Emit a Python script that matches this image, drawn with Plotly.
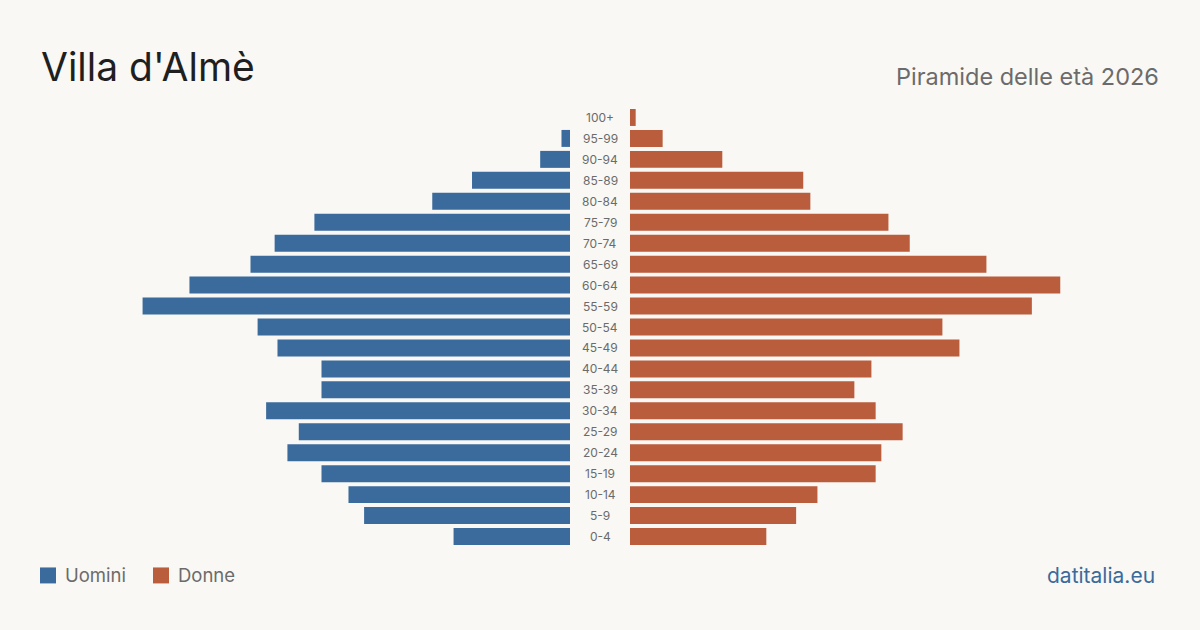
import plotly.graph_objects as go

ages = ["0-4", "5-9", "10-14", "15-19", "20-24", "25-29", "30-34", "35-39", "40-44",
        "45-49", "50-54", "55-59", "60-64", "65-69", "70-74", "75-79", "80-84",
        "85-89", "90-94", "95-99", "100+"]
men = [82, 145, 156, 175, 199, 191, 214, 175, 175, 206, 220, 301, 268, 225, 208, 180, 97, 69, 21, 6, 0]
women = [96, 117, 132, 173, 177, 192, 173, 158, 170, 232, 220, 283, 303, 251, 197, 182, 127, 122, 65, 23, 4]

BLUE = "#3b6b9c"
ORANGE = "#ba5d3c"
BG = "#f9f8f4"
GRAY = "#6b6b6b"
FONT = "Inter, Open Sans, sans-serif"

W, H = 1200, 630
T, B = 106.5, 82.5
PH = H - T - B
xmax = 530 / 1.42


def py(pix):
    # convert a pixel row (from top of figure) to plot-area paper coordinate
    return (H - B - pix) / PH


fig = go.Figure()
fig.add_trace(go.Bar(y=ages, x=men, orientation="h", marker=dict(color=BLUE, line=dict(width=0)),
                     xaxis="x", yaxis="y", name="Uomini", showlegend=False, hoverinfo="x+y"))
fig.add_trace(go.Bar(y=ages, x=women, orientation="h", marker=dict(color=ORANGE, line=dict(width=0)),
                     xaxis="x2", yaxis="y", name="Donne", showlegend=False, hoverinfo="x+y"))

annotations = []
for a in ages:
    annotations.append(dict(x=600 / W, xref="paper", y=a, yref="y", text=a, showarrow=False,
                            xanchor="center", yanchor="middle",
                            font=dict(family=FONT, size=12, color=GRAY)))

annotations += [
    dict(x=39 / W, y=py(66), xref="paper", yref="paper", text="Villa d'Almè", showarrow=False,
         xanchor="left", yanchor="middle", font=dict(family=FONT, size=39, color="#1f1f1f")),
    dict(x=1161 / W, y=py(76), xref="paper", yref="paper", text="Piramide delle età 2026",
         showarrow=False, xanchor="right", yanchor="middle", font=dict(family=FONT, size=23.5, color=GRAY)),
    dict(x=63 / W, y=py(576), xref="paper", yref="paper", text="Uomini", showarrow=False,
         xanchor="left", yanchor="middle", font=dict(family=FONT, size=18.5, color=GRAY)),
    dict(x=176 / W, y=py(576), xref="paper", yref="paper", text="Donne", showarrow=False,
         xanchor="left", yanchor="middle", font=dict(family=FONT, size=18.5, color=GRAY)),
    dict(x=1157 / W, y=py(576), xref="paper", yref="paper", text="datitalia.eu", showarrow=False,
         xanchor="right", yanchor="middle", font=dict(family=FONT, size=21, color=BLUE)),
]

shapes = [
    dict(type="rect", xref="paper", yref="paper", x0=40 / W, x1=56 / W, y0=py(584), y1=py(568),
         fillcolor=BLUE, line=dict(width=0)),
    dict(type="rect", xref="paper", yref="paper", x0=153 / W, x1=169 / W, y0=py(584), y1=py(568),
         fillcolor=ORANGE, line=dict(width=0)),
]

fig.update_layout(
    width=W, height=H,
    paper_bgcolor=BG, plot_bgcolor=BG,
    margin=dict(l=0, r=0, t=T, b=B),
    bargap=0.19,
    xaxis=dict(domain=[40 / W, 570 / W], range=[xmax, 0], visible=False, fixedrange=True),
    xaxis2=dict(domain=[630 / W, 1160 / W], range=[0, xmax], visible=False, fixedrange=True),
    yaxis=dict(categoryorder="array", categoryarray=ages, range=[-0.5, 20.5], visible=False),
    annotations=annotations,
    shapes=shapes,
    showlegend=False,
)

fig.write_html("out.html")
